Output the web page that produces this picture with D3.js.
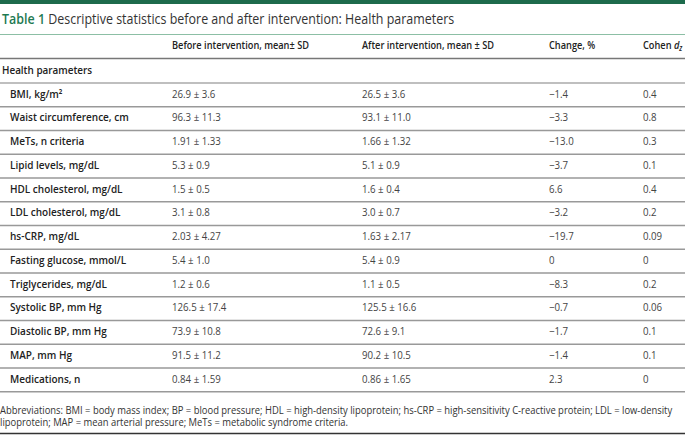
<!DOCTYPE html>
<html>
<head>
<meta charset="utf-8">
<script src="https://cdn.jsdelivr.net/npm/d3@7"></script>
<style>
  body { margin: 0; background: #fff; }
  svg { font-family: "Open Sans", sans-serif; }
</style>
</head>
<body>
<div id="table"></div>
<script>
// Table values
var rowLabels = ["BMI, kg/m\u00b2", "Waist circumference, cm", "MeTs, n criteria", "Lipid levels, mg/dL",
  "HDL cholesterol, mg/dL", "LDL cholesterol, mg/dL", "hs-CRP, mg/dL", "Fasting glucose, mmol/L",
  "Triglycerides, mg/dL", "Systolic BP, mm Hg", "Diastolic BP, mm Hg", "MAP, mm Hg", "Medications, n"];
var beforeValues = ["26.9 ± 3.6", "96.3 ± 11.3", "1.91 ± 1.33", "5.3 ± 0.9", "1.5 ± 0.5", "3.1 ± 0.8",
  "2.03 ± 4.27", "5.4 ± 1.0", "1.2 ± 0.6", "126.5 ± 17.4", "73.9 ± 10.8", "91.5 ± 11.2", "0.84 ± 1.59"];
var afterValues = ["26.5 ± 3.6", "93.1 ± 11.0", "1.66 ± 1.32", "5.1 ± 0.9", "1.6 ± 0.4", "3.0 ± 0.7",
  "1.63 ± 2.17", "5.4 ± 0.9", "1.1 ± 0.5", "125.5 ± 16.6", "72.6 ± 9.1", "90.2 ± 10.5", "0.86 ± 1.65"];
var changeValues = ["\u22121.4", "\u22123.3", "\u221213.0", "\u22123.7", "6.6", "\u22123.2", "\u221219.7",
  "0", "\u22128.3", "\u22120.7", "\u22121.7", "\u22121.4", "2.3"];
var cohenValues = ["0.4", "0.8", "0.3", "0.1", "0.4", "0.2", "0.09", "0", "0.2", "0.06", "0.1", "0.1", "0"];

var headers = ["Before intervention, mean\u00b1 SD", "After intervention, mean \u00b1 SD", "Change, %"];
var footnote = [
  "Abbreviations: BMI = body mass index; BP = blood pressure; HDL = high-density lipoprotein; hs-CRP = high-sensitivity C-reactive protein; LDL = low-density",
  "lipoprotein; MAP = mean arterial pressure; MeTs = metabolic syndrome criteria."
];

var svgWidth = 685;
var svgHeight = 435;

// the reference face is narrower than Open Sans, so text is squeezed horizontally
function place(x, y, sx) {
  return `translate(${x}, ${y}) scale(${sx}, 1)`;
}

var svg = d3.select("#table")
  .append("svg")
  .attr("width", svgWidth)
  .attr("height", svgHeight);

// column x positions
var xCol = d3.scaleOrdinal()
  .domain(["label", "before", "after", "change", "cohen"])
  .range([10, 172, 362, 549, 643]);

// row bands
var yRow = d3.scaleBand()
  .domain(d3.range(rowLabels.length))
  .range([83, 83 + 23.75 * rowLabels.length]);

// top green bar
svg.append("rect")
  .attr("x", 0).attr("y", 0)
  .attr("width", svgWidth).attr("height", 4)
  .attr("fill", "#1d6b4c");

// title
var title = svg.append("text")
  .attr("transform", place(2, 24, 0.86))
  .attr("font-size", "14.5px");
title.append("tspan")
  .attr("fill", "#1d7a52")
  .attr("font-weight", 600)
  .text("Table 1");
title.append("tspan")
  .attr("fill", "#333")
  .text(" Descriptive statistics before and after intervention: Health parameters");

svg.append("line")
  .attr("x1", 0).attr("x2", svgWidth)
  .attr("y1", 34.5).attr("y2", 34.5)
  .attr("stroke", "#8cbfa5").attr("stroke-width", 1);

// header row
var headerG = svg.append("g").attr("font-size", "11px").attr("font-weight", 600).attr("fill", "#222");
["before", "after", "change"].forEach(function(key, i) {
  headerG.append("text")
    .attr("transform", place(xCol(key), 49, 0.84))
    .text(headers[i]);
});
var cohen = headerG.append("text").attr("transform", place(xCol("cohen"), 49, 0.84));
cohen.append("tspan").text("Cohen ");
cohen.append("tspan").attr("font-style", "italic").text("d");
cohen.append("tspan").attr("font-style", "italic").attr("font-size", "8px").attr("dy", 2).text("z");

svg.append("line")
  .attr("x1", 0).attr("x2", svgWidth)
  .attr("y1", 58.5).attr("y2", 58.5)
  .attr("stroke", "#777").attr("stroke-width", 1.5);

svg.append("text")
  .attr("transform", place(2, 74, 0.9))
  .attr("font-size", "11px").attr("font-weight", 600).attr("fill", "#222")
  .text("Health parameters");

svg.append("line")
  .attr("x1", 0).attr("x2", svgWidth)
  .attr("y1", 83).attr("y2", 83)
  .attr("stroke", "#aaa").attr("stroke-width", 1.5);

// body rows
var rows = svg.selectAll(".row")
  .data(rowLabels)
  .enter()
  .append("g")
  .attr("class", "row")
  .attr("transform", (d, i) => `translate(0, ${yRow(i) + yRow.bandwidth() / 2 - 1})`);

rows.append("text")
  .attr("transform", place(xCol("label"), 0, 0.91))
  .attr("dy", "0.35em")
  .attr("font-size", "11px").attr("font-weight", 600).attr("fill", "#222")
  .text(d => d);

var valueCols = [["before", beforeValues], ["after", afterValues], ["change", changeValues], ["cohen", cohenValues]];
valueCols.forEach(function(col) {
  rows.append("text")
    .attr("transform", place(xCol(col[0]), 0, 0.88))
    .attr("dy", "0.35em")
    .attr("font-size", "11px").attr("fill", "#444")
    .text((d, i) => col[1][i]);
});

rows.append("line")
  .attr("x1", 0).attr("x2", svgWidth)
  .attr("y1", yRow.bandwidth() / 2 + 1).attr("y2", yRow.bandwidth() / 2 + 1)
  .attr("stroke", "#999").attr("stroke-width", 1.5);

// footnote
svg.selectAll(".foot")
  .data(footnote)
  .enter()
  .append("text")
  .attr("class", "foot")
  .attr("transform", (d, i) => place(0, 414 + i * 12, 0.915))
  .attr("font-size", "10.3px").attr("fill", "#333")
  .text(d => d);

svg.append("line")
  .attr("x1", 0).attr("x2", svgWidth)
  .attr("y1", 433.5).attr("y2", 433.5)
  .attr("stroke", "#333").attr("stroke-width", 1.5);
</script>
</body>
</html>
